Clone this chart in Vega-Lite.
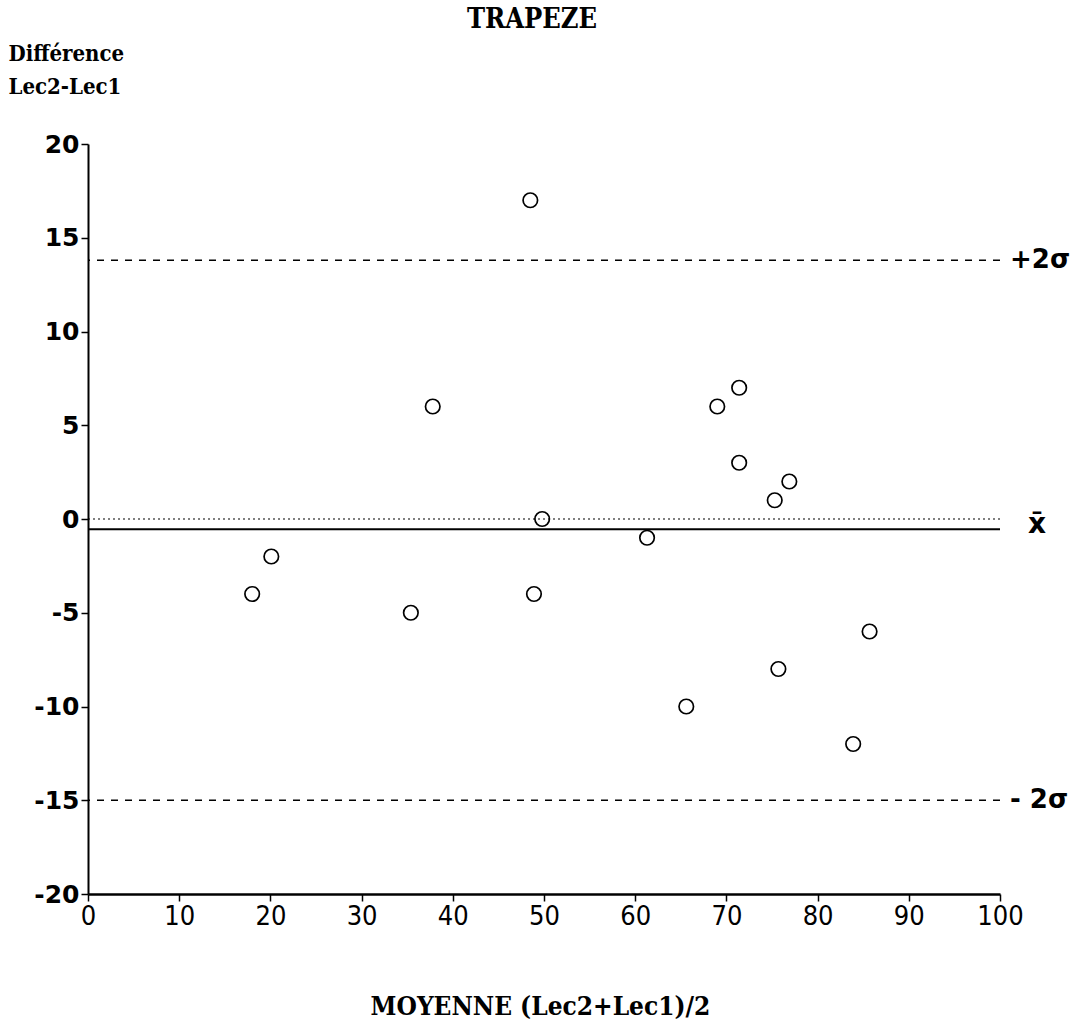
{
  "$schema": "https://vega.github.io/schema/vega-lite/v6.json",
  "width": 912,
  "height": 750,
  "autosize": "none",
  "padding": {"left": 88, "top": 144, "right": 90, "bottom": 130},
  "background": "white",
  "config": {"view": {"stroke": null}},
  "title": {"text": "TRAPEZE", "anchor": "middle", "orient": "top", "baseline": "alphabetic", "offset": -13, "dx": -12, "font": "DejaVu Serif Condensed", "fontSize": 27, "fontWeight": "bold", "color": "black"},
  "datasets": {
    "points": [
      {"moyenne": 18.0, "difference": -4},
      {"moyenne": 20.1, "difference": -2},
      {"moyenne": 35.4, "difference": -5},
      {"moyenne": 37.8, "difference": 6},
      {"moyenne": 48.5, "difference": 17},
      {"moyenne": 48.9, "difference": -4},
      {"moyenne": 49.8, "difference": 0},
      {"moyenne": 61.3, "difference": -1},
      {"moyenne": 65.6, "difference": -10},
      {"moyenne": 69.0, "difference": 6},
      {"moyenne": 71.4, "difference": 7},
      {"moyenne": 71.4, "difference": 3},
      {"moyenne": 75.3, "difference": 1},
      {"moyenne": 76.9, "difference": 2},
      {"moyenne": 75.7, "difference": -8},
      {"moyenne": 83.9, "difference": -12},
      {"moyenne": 85.7, "difference": -6}
    ],
    "lines": [
      {"name": "plus2sigma", "value": 13.8},
      {"name": "minus2sigma", "value": -15},
      {"name": "mean", "value": -0.55},
      {"name": "zero", "value": 0}
    ]
  },
  "layer": [
    {
      "data": {"name": "lines"},
      "transform": [{"filter": "datum.name == 'plus2sigma' || datum.name == 'minus2sigma'"}],
      "mark": {"type": "rule", "color": "black", "strokeWidth": 1.5, "strokeDash": [7, 7]},
      "encoding": {"y": {"field": "value", "type": "quantitative", "scale": {"domain": [-20, 20]}}}
    },
    {
      "data": {"name": "lines"},
      "transform": [{"filter": "datum.name == 'zero'"}],
      "mark": {"type": "rule", "color": "black", "strokeWidth": 1.2, "strokeDash": [2, 3]},
      "encoding": {"y": {"field": "value", "type": "quantitative"}}
    },
    {
      "data": {"name": "lines"},
      "transform": [{"filter": "datum.name == 'mean'"}],
      "mark": {"type": "rule", "color": "black", "strokeWidth": 2},
      "encoding": {"y": {"field": "value", "type": "quantitative"}}
    },
    {
      "data": {"name": "points"},
      "mark": {"type": "point", "shape": "circle", "filled": false, "color": "black", "strokeWidth": 1.7, "size": 210, "opacity": 1},
      "encoding": {
        "x": {
          "field": "moyenne", "type": "quantitative",
          "scale": {"domain": [0, 100], "nice": false},
          "axis": {
            "values": [0, 10, 20, 30, 40, 50, 60, 70, 80, 90, 100],
            "grid": false, "domainColor": "black", "domainWidth": 2.5, "tickColor": "black", "tickWidth": 1.5, "tickSize": 7,
            "labelFont": "DejaVu Sans Condensed", "labelFontSize": 27, "labelFontWeight": "normal", "labelColor": "black", "labelPadding": 2,
            "labelFlush": false,
            "title": "MOYENNE (Lec2+Lec1)/2", "titleFont": "DejaVu Serif Condensed", "titleFontSize": 26, "titleFontWeight": "bold", "titleColor": "black",
            "titleBaseline": "alphabetic", "titleY": 120, "titleX": 452, "titleAnchor": null
          }
        },
        "y": {
          "field": "difference", "type": "quantitative",
          "scale": {"domain": [-20, 20], "nice": false},
          "axis": {
            "values": [-20, -15, -10, -5, 0, 5, 10, 15, 20],
            "labelExpr": "replace(datum.label, '−', '-')",
            "grid": false, "domainColor": "black", "domainWidth": 2, "tickColor": "black", "tickWidth": 1.5, "tickSize": 7,
            "labelFont": "DejaVu Sans", "labelFontSize": 25, "labelFontWeight": "bold", "labelColor": "black", "labelPadding": 2,
            "labelFlush": false,
            "title": ["Différence", "Lec2-Lec1"], "titleFont": "DejaVu Serif Condensed", "titleFontSize": 22, "titleFontWeight": "bold", "titleColor": "black",
            "titleAngle": 0, "titleAlign": "left", "titleBaseline": "alphabetic", "titleX": -80, "titleY": -84, "titleLineHeight": 33
          }
        }
      }
    },
    {
      "data": {"values": [{"x": 100, "y": 13.8, "label": "+2σ"}]},
      "mark": {"type": "text", "align": "left", "baseline": "middle", "dx": 10, "font": "DejaVu Sans", "fontSize": 26, "fontWeight": "bold", "color": "black"},
      "encoding": {"x": {"field": "x", "type": "quantitative"}, "y": {"field": "y", "type": "quantitative"}, "text": {"field": "label"}}
    },
    {
      "data": {"values": [{"x": 100, "y": -0.3, "label": "x̄"}]},
      "mark": {"type": "text", "align": "left", "baseline": "middle", "dx": 28, "font": "DejaVu Sans", "fontSize": 28, "fontWeight": "bold", "color": "black"},
      "encoding": {"x": {"field": "x", "type": "quantitative"}, "y": {"field": "y", "type": "quantitative"}, "text": {"field": "label"}}
    },
    {
      "data": {"values": [{"x": 100, "y": -15, "label": "- 2σ"}]},
      "mark": {"type": "text", "align": "left", "baseline": "middle", "dx": 10, "font": "DejaVu Sans", "fontSize": 26, "fontWeight": "bold", "color": "black"},
      "encoding": {"x": {"field": "x", "type": "quantitative"}, "y": {"field": "y", "type": "quantitative"}, "text": {"field": "label"}}
    }
  ]
}
